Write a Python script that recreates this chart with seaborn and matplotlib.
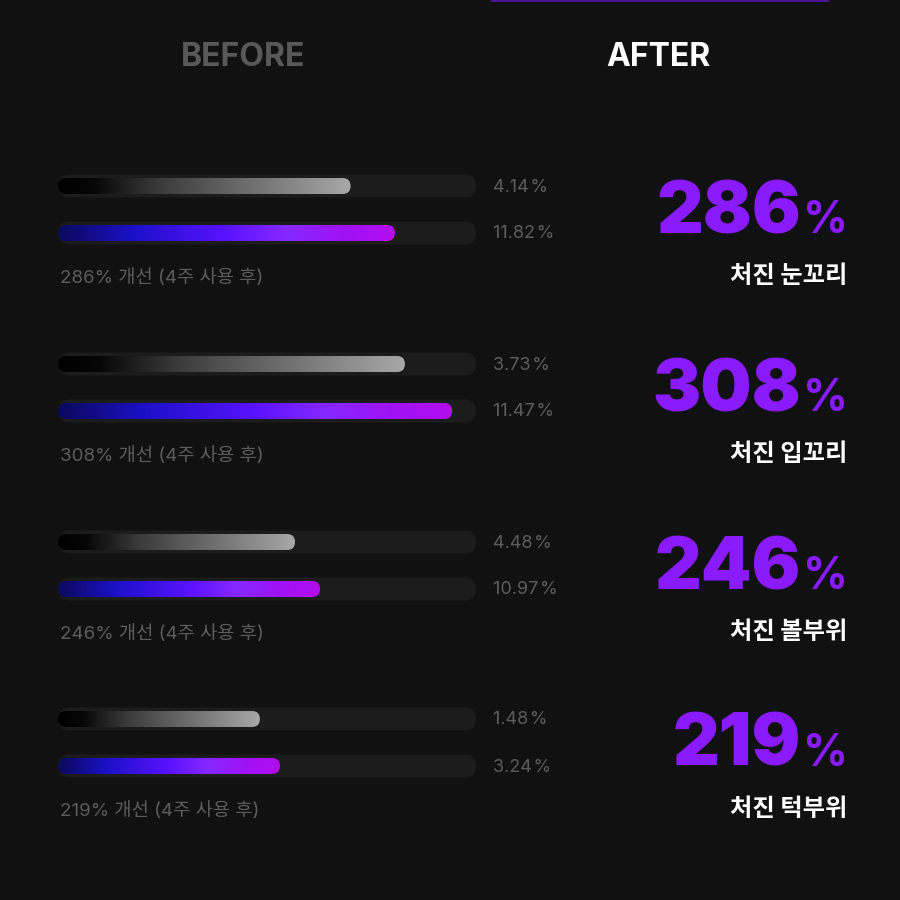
import numpy as np
import pandas as pd
import matplotlib
matplotlib.use("Agg")
import matplotlib.pyplot as plt
import seaborn as sns
from matplotlib.patches import FancyBboxPatch
from matplotlib.colors import LinearSegmentedColormap

# ---------------- data ----------------
categories = ["처진 눈꼬리", "처진 입꼬리", "처진 볼부위", "처진 턱부위"]
before_vals = [4.14, 3.73, 4.48, 1.48]
after_vals = [11.82, 11.47, 10.97, 3.24]
improve_pct = [286, 308, 246, 219]
# displayed fill fraction of each track
before_fill = [0.70, 0.83, 0.567, 0.483]
after_fill = [0.806, 0.943, 0.627, 0.531]
header_labels = ["BEFORE", "AFTER"]

# ---------------- style ----------------
sns.set_theme(style="dark")
plt.rcParams["font.family"] = ["Noto Sans CJK KR", "DejaVu Sans"]
BG = "#111111"
TRACK = "#1c1c1c"
GREY_TXT = "#5c5c5c"
PURPLE = "#8a1bff"
LATIN = ["Inter", "Noto Sans CJK KR", "DejaVu Sans"]

before_cmap = LinearSegmentedColormap.from_list(
    "before", [(0, "#000000"), (0.12, "#070707"), (0.35, "#3c3c3c"), (1, "#a8a8a8")])
after_cmap = LinearSegmentedColormap.from_list(
    "after", [(0, "#0a0a5a"), (0.22, "#1c10c8"), (0.5, "#5a12ff"),
              (0.68, "#8628ff"), (0.85, "#a012f6"), (1, "#b40cf0")])

W = H = 900
fig = plt.figure(figsize=(9, 9), dpi=100, facecolor=BG)

bg = fig.add_axes([0, 0, 1, 1])
bg.set_xlim(0, W)
bg.set_ylim(H, 0)
bg.set_facecolor(BG)
bg.axis("off")

bg.add_patch(FancyBboxPatch((490, -20), 340, 22, boxstyle="round,pad=0,rounding_size=3",
                            fc="#4b1590", ec="none"))

bg.text(243, 57, header_labels[0], color="#595959", fontsize=23, fontweight="bold",
        ha="center", va="center", family=LATIN)
bg.text(658, 57, header_labels[1], color="#ffffff", fontsize=23, fontweight="bold",
        ha="center", va="center", family=LATIN)

track_left, track_w = 58, 418
row_gap = 47
group_y = [186, 364, 542, 719]

for g, cat in enumerate(categories):
    y0 = group_y[g]
    bottom = 1 - (y0 + row_gap * 1.5) / H
    ax = fig.add_axes([track_left / W, bottom, track_w / W, 2 * row_gap / H])
    ax.set_facecolor("none")
    df = pd.DataFrame({
        "row": ["before", "after"],
        "track": [1.0, 1.0],
        "fill": [before_fill[g], after_fill[g]],
    })
    sns.barplot(data=df, x="track", y="row", orient="h", color=TRACK, width=0.49,
                ax=ax, saturation=1)
    n_track = len(ax.patches)
    sns.barplot(data=df, x="fill", y="row", orient="h", color="#888888", width=0.34,
                ax=ax, saturation=1)
    ax.set_xlim(0, 1)
    ax.set_ylim(1.5, -0.5)
    ax.axis("off")

    aspect = (1 / row_gap) / (1 / track_w)
    patches = list(ax.patches)
    for i, p in enumerate(patches):
        x, y = p.get_x(), p.get_y()
        w, h = p.get_width(), p.get_height()
        p.remove()
        r = (h / aspect) / 2
        rp = FancyBboxPatch((x, y), w, h, boxstyle=f"round,pad=0,rounding_size={r}",
                            mutation_aspect=aspect, ec="none",
                            fc=TRACK if i < n_track else "none")
        ax.add_patch(rp)
        if i >= n_track:
            cmap = before_cmap if (i - n_track) == 0 else after_cmap
            grad = np.linspace(0, 1, 256).reshape(1, -1)
            im = ax.imshow(grad, cmap=cmap, extent=[x, x + w, y + h, y],
                           aspect="auto", interpolation="bilinear", zorder=3)
            im.set_clip_path(rp)
    ax.set_xlim(0, 1)
    ax.set_ylim(1.5, -0.5)

    bg.text(493, y0 + 1, f"{before_vals[g]:.2f}\u200a%", color=GREY_TXT, fontsize=13,
            ha="left", va="center", family=LATIN)
    bg.text(493, y0 + row_gap + 1, f"{after_vals[g]:.2f}\u200a%", color=GREY_TXT,
            fontsize=13, ha="left", va="center", family=LATIN)
    bg.text(60, y0 + 92, f"{improve_pct[g]}% 개선 (4주 사용 후)", color=GREY_TXT,
            fontsize=13.5, ha="left", va="center", family=LATIN)
    base_y = y0 + 47
    bg.text(848, base_y, "%", color=PURPLE, fontsize=32, fontweight="bold",
            ha="right", va="baseline", family=LATIN)
    bg.text(801, base_y, f"{improve_pct[g]}", color=PURPLE, fontsize=52,
            fontweight="black", ha="right", va="baseline",
            family=["Inter", "Roboto", "DejaVu Sans"])
    bg.text(847, y0 + 90, cat, color="#ffffff", fontsize=17.5, fontweight="bold",
            ha="right", va="center")

fig.savefig("out.png", dpi=100, facecolor=BG)
